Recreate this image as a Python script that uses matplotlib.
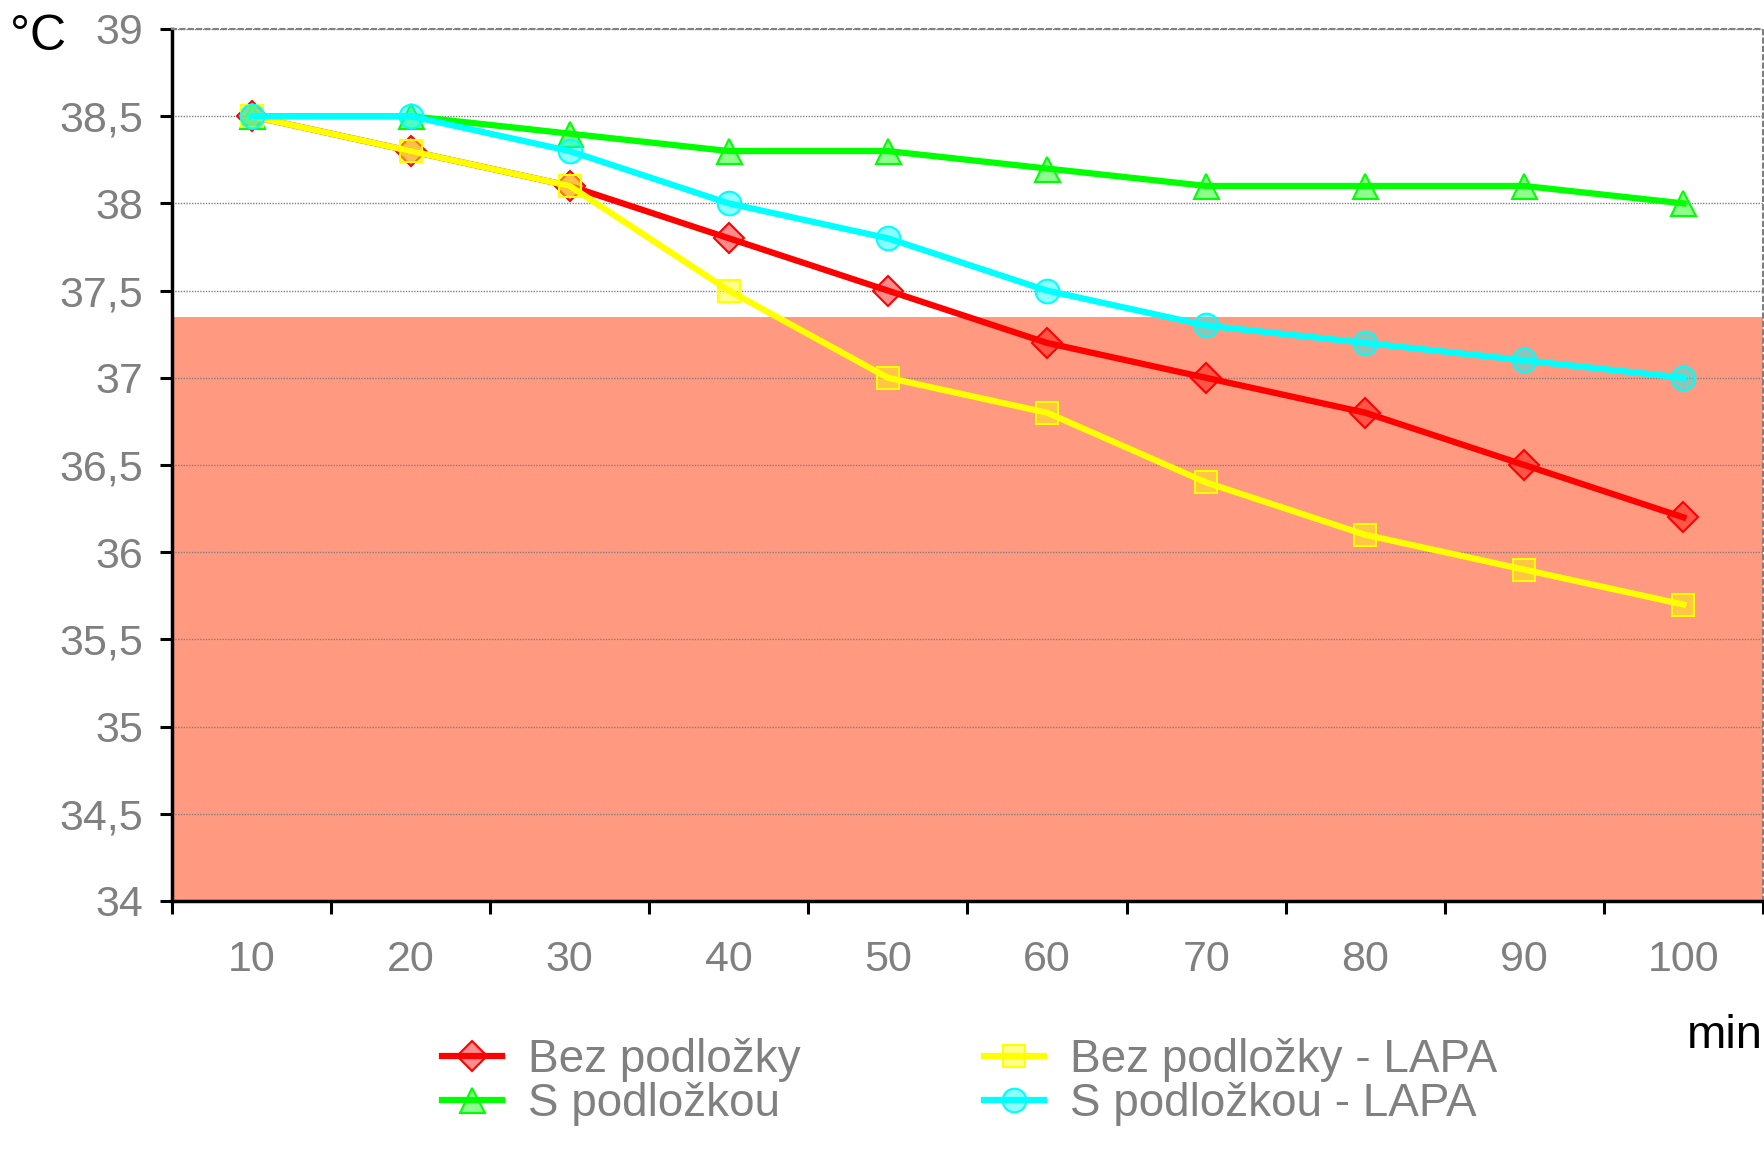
import numpy as np
import matplotlib.pyplot as plt
from matplotlib.colors import to_rgba

plt.rcParams['font.family'] = ['Liberation Sans', 'DejaVu Sans']

minutes = ['10', '20', '30', '40', '50', '60', '70', '80', '90', '100']
bez = [38.5, 38.3, 38.1, 37.8, 37.5, 37.2, 37.0, 36.8, 36.5, 36.2]
s_podl = [38.5, 38.5, 38.4, 38.3, 38.3, 38.2, 38.1, 38.1, 38.1, 38.0]
bez_lapa = [38.5, 38.3, 38.1, 37.5, 37.0, 36.8, 36.4, 36.1, 35.9, 35.7]
s_lapa = [38.5, 38.5, 38.3, 38.0, 37.8, 37.5, 37.3, 37.2, 37.1, 37.0]
band_top = 37.35
y_ticks = [34, 34.5, 35, 35.5, 36, 36.5, 37, 37.5, 38, 38.5, 39]

fig = plt.figure(figsize=(17.65, 11.52), dpi=100)
ax = fig.add_axes([172/1765, 1 - 901/1152, (1763 - 172)/1765, (901 - 29)/1152])

x = np.arange(len(minutes))
ax.axhspan(34, band_top, color='#FF9980', zorder=0, lw=0)

series = [
    (bez, '#FF0000', 'D', 15, 'Bez podložky'),
    (s_podl, '#00FF00', '^', 18, 'S podložkou'),
    (bez_lapa, '#FFFF00', 's', 16, 'Bez podložky - LAPA'),
    (s_lapa, '#00FFFF', 'o', 17, 'S podložkou - LAPA'),
]
for vals, col, mk, ms, lab in series:
    ax.plot(x, vals, color=col, lw=4.5, marker=mk, markersize=ms,
            markerfacecolor=to_rgba(col, 0.45), markeredgecolor=col,
            markeredgewidth=1.5, label=lab, clip_on=False, zorder=3)

ax.set_xlim(-0.5, len(minutes) - 0.5)
ax.set_ylim(34, 39)
ax.set_yticks(y_ticks)
ax.set_yticklabels([('%g' % v).replace('.', ',') for v in y_ticks])
ax.set_xticks(np.arange(-0.5, len(minutes), 1.0))
ax.set_xticklabels([])
ax.set_xticks(x, minor=True)
ax.set_xticklabels(minutes, minor=True)
ax.tick_params(axis='x', which='minor', length=0, pad=28, labelsize=31, labelcolor='#808080')
ax.tick_params(axis='x', which='major', direction='out', length=9, width=2.2, color='black')
ax.tick_params(axis='y', direction='out', length=9, width=2.2, color='black',
               labelsize=31, labelcolor='#808080', pad=12)

ax.set_axisbelow(True)
ax.yaxis.grid(True, color='#808080', lw=1, ls=(0, (1, 1)))

for side in ['left', 'bottom']:
    ax.spines[side].set_linewidth(2.5)
    ax.spines[side].set_color('black')
for side in ['top', 'right']:
    ax.spines[side].set_linewidth(1.5)
    ax.spines[side].set_color('#808080')
    ax.spines[side].set_linestyle((0, (2, 2)))

fig.text(10/1765, 1 - 37/1152, '°C', fontsize=36, color='black', va='center', ha='left')
fig.text(1763/1765, 1 - 1036/1152, 'min', fontsize=34, color='black', va='center', ha='right')

leg = fig.legend(loc='center left', bbox_to_anchor=(442/1765, 1 - 1082/1152), ncol=2,
                 frameon=False, fontsize=33, labelcolor='#808080', handlelength=1.3,
                 handletextpad=0.58, columnspacing=4.0, labelspacing=0.0,
                 borderpad=0, borderaxespad=0)

fig.savefig('out.png', dpi=100)
